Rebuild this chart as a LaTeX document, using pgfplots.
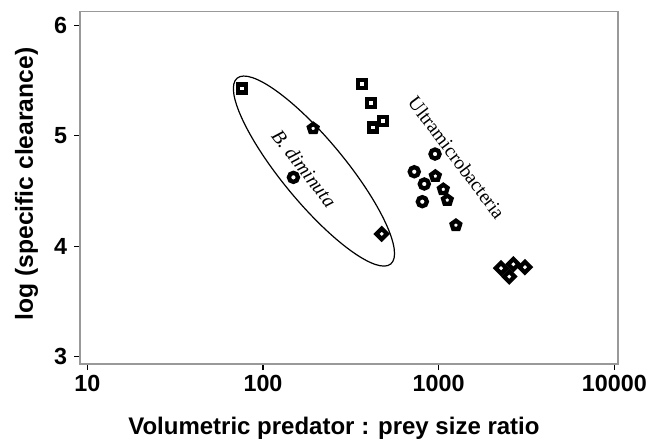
\documentclass[border=0pt]{standalone}
\usepackage{fontspec}
\setmainfont{Liberation Sans}
\newfontfamily\tnr{Liberation Serif}
\usepackage{pgfplots}
\pgfplotsset{compat=1.18}

\tikzset{
  pt/.style={only marks, black},
  mk/.style={fill=white, draw=black, line width=3.2pt},
}

\begin{document}
\begin{tikzpicture}
\begin{axis}[
  scale only axis, width=403.5pt, height=264.2pt,
  xmode=log, xmin=9.09, xmax=10484, ymin=2.935, ymax=6.123,
  xtick={10,100,1000,10000}, xticklabels={10,100,1000,10000},
  ytick={3,4,5,6}, yticklabels={3,4,5,6},
  xminorticks=false, tick pos=left, tick align=outside,
  major tick length=4.5pt,
  tick style={black, line width=1pt},
  axis line style={gray!80, line width=1pt},
  tick label style={font=\bfseries\fontsize{17.5}{20}\selectfont},
  xticklabel style={inner sep=0pt, anchor=north, yshift=-4pt},
  yticklabel style={inner sep=0pt, anchor=east, xshift=-5pt},
  xlabel={Volumetric predator : prey size ratio},
  ylabel={log (specific clearance)},
  xlabel style={font=\bfseries\fontsize{18}{22}\selectfont,
    at={(axis description cs:0.472,-0.1995)}, anchor=base, inner sep=0pt},
  ylabel style={font=\bfseries\fontsize{18.5}{22}\selectfont,
    at={(axis description cs:-0.0874,0.511)}, rotate=0, anchor=base, inner sep=0pt},
]
% squares
\addplot[pt, mark=square*, mark size=3.0pt, mark options={mk}] coordinates {
  (75.7,5.428) (367,5.467) (410,5.298) (421,5.076) (484,5.133)
};
% pentagons
\addplot[pt, mark=pentagon*, mark size=3.4pt, mark options={mk}] coordinates {
  (193,5.067) (957,4.636) (1062,4.516) (1119,4.419) (1253,4.191)
};
% circles
\addplot[pt, mark=*, mark size=3.4pt, mark options={mk}] coordinates {
  (149,4.624) (953,4.835) (726,4.675) (828,4.564) (807,4.404)
};
% diamonds
\addplot[pt, mark=square*, mark size=2.8pt, mark options={mk, rotate=45}] coordinates {
  (474,4.112) (2264,3.802) (2660,3.838) (3097,3.811) (2523,3.726)
};
\draw[black, line width=0.9pt, rotate around={-50.4:(axis cs:195,4.681)}]
  (axis cs:195,4.681) ellipse [x radius=90.4pt, y radius=23.6pt];
\node[rotate=-52, font=\tnr\itshape\fontsize{14.8}{16}\selectfont] at (axis cs:171.6,4.705) {B. diminuta};
\node[rotate=-53, font=\tnr\fontsize{14.6}{16}\selectfont] at (axis cs:1266,4.803) {Ultramicrobacteria};
\end{axis}
\pgfresetboundingbox
\path (-60pt,-56.25pt) rectangle (429pt,273pt);
\end{tikzpicture}
\end{document}
